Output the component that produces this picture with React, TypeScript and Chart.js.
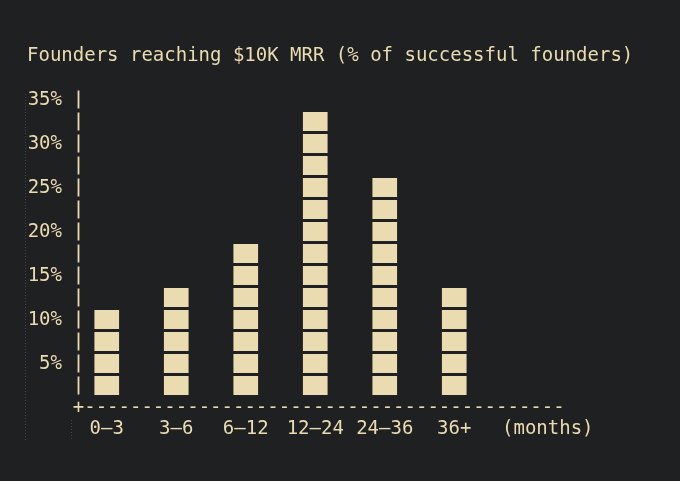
import React, { useEffect, useRef } from 'react';
import { Chart, registerables } from 'chart.js';

Chart.register(...registerables);

// ---- data ----
const TITLE = 'Founders reaching $10K MRR (% of successful founders)';
const CATEGORIES = ['0–3', '3–6', '6–12', '12–24', '24–36', '36+'];
const SHARE = [10, 12.5, 17.5, 32.5, 25, 12.5];
const Y_TICKS = [5, 10, 15, 20, 25, 30, 35];
const X_UNIT_LABEL = '(months)';
const BLOCK_UNIT = 2.5;

// ---- style ----
const BG = '#1e2022';
const CREAM = '#ebdbb0';
const FONT = '"DejaVu Sans Mono", "Liberation Mono", monospace';
const FONT_SIZE = 19;
const LINE_H = 22 / 19;

const asciiPlugin = {
  id: 'asciiPlugin',
  beforeDraw(chart: any) {
    const { ctx, width, height } = chart;
    ctx.save();
    ctx.fillStyle = BG;
    ctx.fillRect(0, 0, width, height);
    ctx.restore();
  },
  beforeDatasetsDraw(chart: any) {
    const { ctx, chartArea } = chart;
    ctx.save();
    ctx.strokeStyle = 'rgba(140,140,140,0.35)';
    ctx.lineWidth = 1;
    ctx.setLineDash([1, 2]);
    ctx.beginPath();
    ctx.moveTo(25.5, chartArea.top + 6);
    ctx.lineTo(25.5, chartArea.bottom + 44);
    ctx.moveTo(chartArea.left - 0.5, chartArea.bottom + 24);
    ctx.lineTo(chartArea.left - 0.5, chartArea.bottom + 44);
    ctx.stroke();
    ctx.restore();
  },
  afterDatasetsDraw(chart: any) {
    const { ctx, chartArea, scales } = chart;
    const x = scales.x;
    const y = scales.y;
    const meta = chart.getDatasetMeta(0);
    ctx.save();
    // gaps between stacked blocks
    ctx.fillStyle = BG;
    meta.data.forEach((bar: any, i: number) => {
      const { x: cx, width } = bar.getProps(['x', 'width'], true);
      const n = Math.round(SHARE[i] / BLOCK_UNIT);
      for (let k = 0; k <= n; k++) {
        const py = y.getPixelForValue(k * BLOCK_UNIT);
        ctx.fillRect(cx - width / 2 - 1, py - 1, width + 2, 3);
      }
    });
    // y axis drawn as '|' per row
    const ax = chartArea.left + 6.5;
    ctx.strokeStyle = CREAM;
    ctx.lineWidth = 1.8;
    const rows = Math.round(y.max / BLOCK_UNIT);
    for (let k = 0; k < rows; k++) {
      const yb = y.getPixelForValue(k * BLOCK_UNIT);
      const yt = y.getPixelForValue((k + 1) * BLOCK_UNIT);
      ctx.beginPath();
      ctx.moveTo(ax, yt + 2.5);
      ctx.lineTo(ax, yb - 1.5);
      ctx.stroke();
    }
    // x axis as text
    const rowH = y.getPixelForValue(0) - y.getPixelForValue(BLOCK_UNIT);
    ctx.fillStyle = CREAM;
    ctx.font = `${FONT_SIZE}px ${FONT}`;
    ctx.textBaseline = 'middle';
    ctx.textAlign = 'left';
    ctx.fillText('+' + '-'.repeat(42), ax - 5.7, chartArea.bottom + rowH / 2 + 1.5);
    ctx.fillText(X_UNIT_LABEL, x.right + 13, chartArea.bottom + rowH * 1.5);
    ctx.restore();
  },
};

export default function App() {
  const ref = useRef<HTMLCanvasElement>(null);

  useEffect(() => {
    if (!ref.current) return;
    const font = { family: FONT, size: FONT_SIZE, weight: 'normal' as const, lineHeight: LINE_H };
    const chart = new Chart(ref.current, {
      type: 'bar',
      data: {
        labels: CATEGORIES,
        datasets: [
          {
            data: SHARE,
            backgroundColor: CREAM,
            borderWidth: 0,
            barThickness: 24,
          },
        ],
      },
      options: {
        animation: false,
        responsive: true,
        maintainAspectRatio: false,
        layout: { padding: { left: 27, right: 0, top: 0, bottom: 41 } },
        plugins: {
          legend: { display: false },
          tooltip: { enabled: false },
          title: {
            display: true,
            text: TITLE,
            align: 'start',
            color: CREAM,
            font,
            padding: { top: 45, bottom: 21 },
          },
        },
        scales: {
          x: {
            grid: { display: false, drawTicks: false },
            border: { display: false },
            ticks: { color: CREAM, font, padding: 22, maxRotation: 0, autoSkip: false },
            afterFit: (s: any) => {
              s.height = 44;
            },
          },
          y: {
            min: 0,
            max: 35,
            grid: { display: false, drawTicks: false },
            border: { display: false },
            afterBuildTicks: (s: any) => {
              s.ticks = Y_TICKS.map((v) => ({ value: v }));
            },
            ticks: {
              color: CREAM,
              font,
              padding: 10,
              labelOffset: 12,
              callback: (v: any) => `${v}%`,
            },
            afterFit: (s: any) => {
              s.width = 45;
            },
          },
          // empty right-hand axis that only reserves room for the "(months)" note
          yRight: {
            type: 'linear',
            position: 'right',
            display: true,
            grid: { display: false, drawTicks: false },
            border: { display: false },
            ticks: { display: false },
            afterFit: (s: any) => {
              s.width = 191;
            },
          },
        },
      },
      plugins: [asciiPlugin],
    });
    return () => chart.destroy();
  }, []);

  return (
    <div style={{ position: 'fixed', left: 0, top: 0, width: 680, height: 481, background: BG }}>
      <canvas ref={ref} />
    </div>
  );
}
